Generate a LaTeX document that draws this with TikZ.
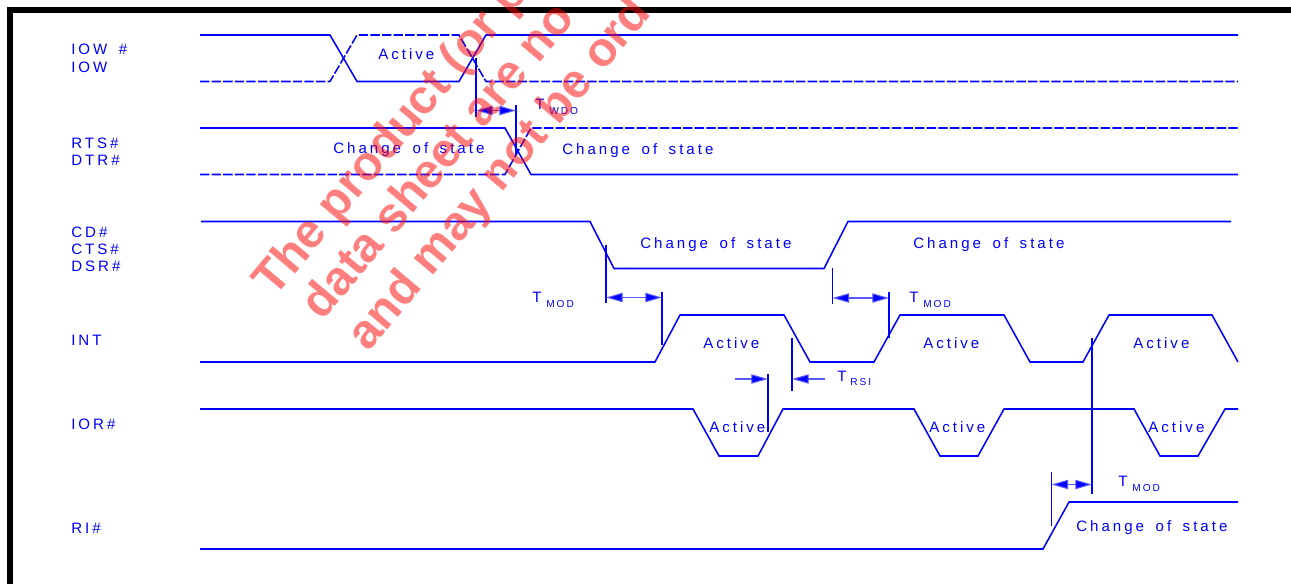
\documentclass[tikz,border=0pt]{standalone}
\usepackage{fontspec}
\setmainfont{Liberation Sans}
\newfontfamily\labfont[LetterSpace=20,WordSpace=1.6]{Liberation Sans}
\newfontfamily\wmfont{Liberation Sans Bold}
\usetikzlibrary{arrows.meta}
\definecolor{wave}{RGB}{0,0,255}
\tikzset{
  x=0.75pt,y=-0.75pt,
  wavesolid/.style={draw=wave,line width=1.15pt,line join=miter},
  wavedash/.style={wavesolid,dash pattern=on 7pt off 1.7pt},
  tick/.style={draw=wave,line width=0.8pt},
  dimline/.style={draw=wave!65,line width=0.8pt,-{Triangle[length=12.5pt,width=7pt,fill=wave]}},
  txt/.style={inner sep=0pt,anchor=base west,text=wave,font=\labfont\fontsize{11.3pt}{13pt}\selectfont},
  subtxt/.style={inner sep=0pt,anchor=base west,text=wave,font=\labfont\fontsize{7.6pt}{9pt}\selectfont},
  wm/.style={inner sep=0pt,anchor=base west,rotate=50,text=red,opacity=0.5,text opacity=0.5,font=\wmfont\fontsize{36pt}{40pt}\selectfont},
}
\begin{document}
\begin{tikzpicture}
\useasboundingbox (0,0) rectangle (1291,584);
\fill[black] (7,7) rectangle (1291,13);
\fill[black] (7,7) rectangle (13,584);
% waveforms
\draw[wavesolid] (200,35) -- (330,35) -- (357,81.5) -- (459,81.5) -- (486,35) -- (1238,35);
\draw[wavedash] (200,81.5) -- (330,81.5) -- (357,35) -- (459,35) -- (486,81.5) -- (1238,81.5);
\draw[wavesolid] (200,128) -- (505,128) -- (531,174.5) -- (1238,174.5);
\draw[wavedash] (200,174.5) -- (505,174.5) -- (531,128) -- (1238,128);
\draw[wavesolid] (201,221.5) -- (590,221.5) -- (614,268.5) -- (824,268.5) -- (848,221.5) -- (1231,221.5);
\draw[wavesolid] (200,362) -- (655,362) -- (680,315) -- (784,315) -- (810,362) -- (874,362) -- (900,315) -- (1004,315) -- (1030,362) -- (1083,362) -- (1109,315) -- (1212,315) -- (1238,362);
\draw[wavesolid] (200,409) -- (693,409) -- (719,456) -- (758,456) -- (783,409) -- (914,409) -- (940,456) -- (978,456) -- (1004,409) -- (1134,409) -- (1160,456) -- (1198,456) -- (1225,409) -- (1238,409);
\draw[wavesolid] (200,549) -- (1043,549) -- (1069,502) -- (1238,502);
% timing ticks and arrows
\coordinate (wa) at (476,110.5); \coordinate (wb) at (516,110.5);
\draw[tick] (476,58) -- (476,117); \draw[tick] (516,105) -- (516,155);
\draw[dimline] (496.5,110.5) -- (wa); \draw[dimline] (496.5,110.5) -- (wb);
\coordinate (ma) at (606,297.5); \coordinate (mb) at (662,297.5);
\draw[tick] (606,245) -- (606,303); \draw[tick] (662,292) -- (662,345);
\draw[dimline] (634,297.5) -- (ma); \draw[dimline] (634,297.5) -- (mb);
\coordinate (mc) at (832.5,298); \coordinate (md) at (889,298);
\draw[tick] (832.5,268) -- (832.5,304); \draw[tick] (889,292) -- (889,338);
\draw[dimline] (861,298) -- (mc); \draw[dimline] (861,298) -- (md);
\coordinate (ra) at (735,379); \coordinate (rb) at (768,379);
\coordinate (rc) at (825,379); \coordinate (rd) at (792,379);
\draw[tick] (768,374) -- (768,432); \draw[tick] (792,338) -- (792,391);
\draw[dimline] (ra) -- (rb); \draw[dimline] (rc) -- (rd);
\coordinate (na) at (1051.5,484.5); \coordinate (nb) at (1092,484.5);
\draw[tick] (1051.5,472) -- (1051.5,526); \draw[tick] (1092,338) -- (1092,494);
\draw[dimline] (1071.5,484.5) -- (na); \draw[dimline] (1071.5,484.5) -- (nb);
% signal names
\node[txt] (n1) at (71,55) {IOW \#};
\node[txt] (n2) at (71,73) {IOW};
\node[txt] (n3) at (71,149) {RTS\#};
\node[txt] (n4) at (71,166) {DTR\#};
\node[txt] (n5) at (71,238) {CD\#};
\node[txt] (n6) at (71,255) {CTS\#};
\node[txt] (n7) at (71,272) {DSR\#};
\node[txt] (n8) at (71,345) {INT};
\node[txt] (n9) at (71,429) {IOR\#};
\node[txt] (n10) at (71,533) {RI\#};
% wave labels
\node[txt] (a1) at (378,60) {Active};
\node[txt] (c1) at (333,154) {Change of state};
\node[txt] (c2) at (562,155) {Change of state};
\node[txt] (c3) at (640,249) {Change of state};
\node[txt] (c4) at (913,249) {Change of state};
\node[txt] (a2) at (703,349) {Active};
\node[txt] (a3) at (923,349) {Active};
\node[txt] (a4) at (1133,349) {Active};
\node[txt] (a5) at (709,432) {Active};
\node[txt] (a6) at (929,432) {Active};
\node[txt] (a7) at (1148,432) {Active};
\node[txt] (c5) at (1076,531) {Change of state};
% timing labels
\node[txt] (t1) at (535,110) {T}; \node[subtxt] (s1) at (549,115) {WDO};
\node[txt] (t2) at (532,303) {T}; \node[subtxt] (s2) at (546,308) {MOD};
\node[txt] (t3) at (909,303) {T}; \node[subtxt] (s3) at (923,308) {MOD};
\node[txt] (t4) at (837,381) {T}; \node[subtxt] (s4) at (850,385) {RSI};
\node[txt] (t5) at (1118,486) {T}; \node[subtxt] (s5) at (1132,491) {MOD};
% watermark
\node[wm] (w1) at (274,299) {The product (or p};
\node[wm] (w2) at (322,322) {data sheet are no};
\node[wm] (w3) at (368,353) {and may not be ord};
\end{tikzpicture}
\end{document}
